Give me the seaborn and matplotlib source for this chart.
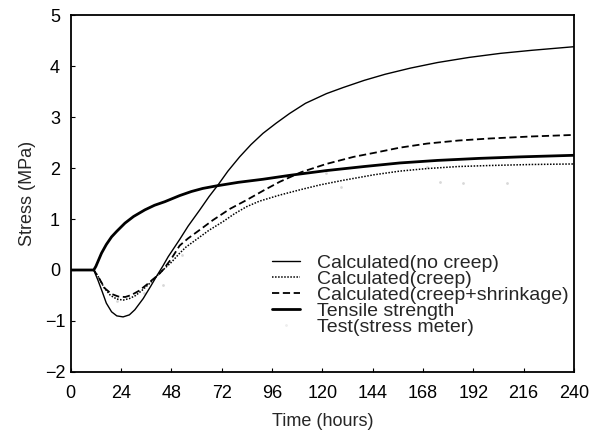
import numpy as np
import pandas as pd
import matplotlib
matplotlib.use("Agg")
import matplotlib.pyplot as plt
import seaborn as sns
from matplotlib.lines import Line2D

# ---- data ----
t_nocreep = [0, 11, 13, 15, 17, 19.5, 22, 25, 28, 30.6, 34.6, 38, 41, 44, 46.5, 52, 56, 61.6, 66, 70.3, 75, 80.6,
             86, 91.7, 98, 104.4, 112, 122, 130, 140, 150, 162, 175, 190, 205, 220, 240]
s_nocreep = [0, 0, -0.2, -0.42, -0.65, -0.82, -0.9, -0.92, -0.88, -0.78, -0.56, -0.33, -0.12, 0.08, 0.26, 0.6, 0.86,
             1.18, 1.44, 1.67, 1.94, 2.22, 2.46, 2.68, 2.88, 3.07, 3.27, 3.46, 3.58, 3.72, 3.84, 3.96, 4.07, 4.17,
             4.25, 4.31, 4.38]

t_creep = [0, 11, 13, 16, 19, 22, 25, 28, 31, 34, 38, 41, 44, 48, 52, 55, 60, 66, 72.7, 78, 83.8, 90, 99.7, 110,
           119, 130, 145, 157, 170, 185, 200, 220, 240]
s_creep = [0, 0, -0.12, -0.35, -0.5, -0.57, -0.59, -0.56, -0.5, -0.4, -0.25, -0.12, 0.0, 0.15, 0.33, 0.45, 0.6,
           0.78, 0.95, 1.1, 1.24, 1.35, 1.47, 1.58, 1.67, 1.76, 1.87, 1.94, 1.99, 2.03, 2.05, 2.07, 2.08]

t_shrink = [0, 11, 13.1, 16.3, 19.5, 22.7, 26, 29, 32.5, 36.2, 39, 41.7, 44, 48, 52, 56, 62, 67.9, 76, 83.8, 92,
            99.7, 110, 121.9, 135, 145, 157, 170, 185, 200, 220, 240]
s_shrink = [0, 0, -0.13, -0.36, -0.47, -0.52, -0.53, -0.49, -0.41, -0.29, -0.19, -0.1, 0.0, 0.22, 0.48, 0.62,
            0.8, 0.98, 1.2, 1.37, 1.56, 1.73, 1.92, 2.08, 2.22, 2.3, 2.4, 2.48, 2.54, 2.58, 2.62, 2.65]

t_tensile = [0, 11, 12, 14.7, 17, 19.5, 22, 25.9, 30, 35.4, 40, 44.9, 52, 57.6, 63, 69.5, 80, 91.7, 105, 121.9,
             140, 157, 175, 195, 215, 240]
s_tensile = [0, 0, 0.07, 0.33, 0.5, 0.65, 0.76, 0.92, 1.05, 1.18, 1.27, 1.34, 1.46, 1.54, 1.6, 1.65, 1.72, 1.78,
             1.86, 1.95, 2.03, 2.1, 2.15, 2.19, 2.22, 2.25]

t_test = [22, 35, 44, 53, 122, 129, 170, 176, 187, 208]
s_test = [-0.6, -0.45, -0.3, 0.3, 1.9, 1.63, 2.02, 1.73, 1.7, 1.7]

labels = ["Calculated(no creep)", "Calculated(creep)",
          "Calculated(creep+shrinkage)", "Tensile strength", "Test(stress meter)"]
x_ticks = [0, 24, 48, 72, 96, 120, 144, 168, 192, 216, 240]
y_ticks = [-2, -1, 0, 1, 2, 3, 4, 5]
y_ticklabels = ["\u22122", "\u22121", "0", "1", "2", "3", "4", "5"]

sns.set_style("ticks")
plt.rcParams['font.family'] = ['Liberation Sans', 'DejaVu Sans']

fig = plt.figure(figsize=(5.99, 4.32), dpi=100)
ax = fig.add_axes([0.118, 0.139, 0.840, 0.826])

styles = [
    dict(lw=1.0, ls="-"),
    dict(lw=1.1, ls=(0, (1, 1))),
    dict(lw=1.3, ls=(0, (4, 2))),
    dict(lw=2.0, ls="-"),
]
series = [(t_nocreep, s_nocreep), (t_creep, s_creep), (t_shrink, s_shrink), (t_tensile, s_tensile)]
for (tt, ss), st in zip(series, styles):
    df = pd.DataFrame({"t": tt, "s": ss})
    sns.lineplot(data=df, x="t", y="s", ax=ax, color="black", linewidth=st["lw"],
                 linestyle=st["ls"], legend=False)

df_test = pd.DataFrame({"t": t_test, "s": s_test})
sns.scatterplot(data=df_test, x="t", y="s", ax=ax, color="#d8d8d8", s=4, linewidth=0, legend=False)

ax.set_xlim(0, 240)
ax.set_ylim(-2, 5)
ax.set_xticks(x_ticks)
ax.set_yticks(y_ticks)
ax.set_yticklabels(y_ticklabels)
ax.tick_params(direction="in", length=3, width=0.8, labelsize=13, colors="black")
ax.tick_params(axis="x", pad=9.5)
ax.tick_params(axis="y", pad=11.3)
for lbl in ax.get_yticklabels():
    lbl.set_horizontalalignment("center")
for sp in ax.spines.values():
    sp.set_linewidth(1.3)
    sp.set_color("black")
ax.set_xlabel("Time (hours)", fontsize=13, labelpad=8)
ax.set_ylabel("Stress (MPa)", fontsize=13, labelpad=6)

handles = [Line2D([], [], color="black", linewidth=st["lw"], linestyle=st["ls"]) for st in styles]
handles.append(Line2D([], [], color="#eeeeee", marker=".", markersize=2, linestyle="none"))
leg = ax.legend(handles, labels, loc="upper left", bbox_to_anchor=(0.454, 0.412),
                bbox_transform=fig.transFigure,
                frameon=False, fontsize=14, handlelength=1.45, handletextpad=0.85,
                labelspacing=-0.08, borderpad=0, borderaxespad=0)

fig.savefig("out.png", dpi=100, facecolor="white")
